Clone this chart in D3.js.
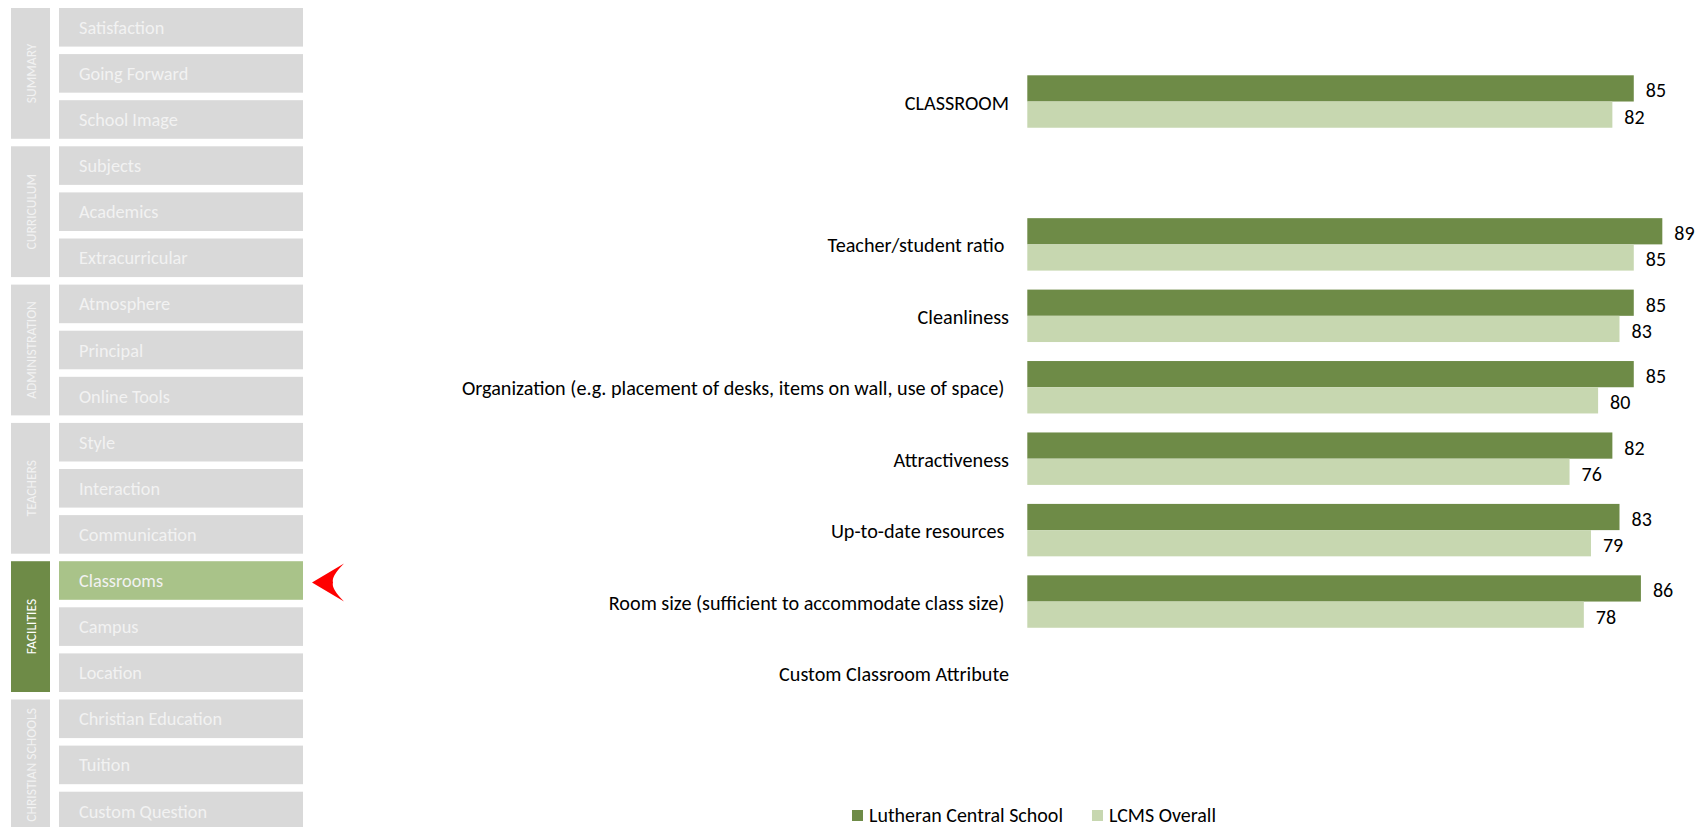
<!DOCTYPE html>
<html>
<head>
<meta charset="utf-8">
<script src="https://cdn.jsdelivr.net/npm/d3@7"></script>
<style>
  body { margin: 0; background: #fff; }
  svg { display: block; }
  text { font-family: Carlito, Calibri, Lato, sans-serif; }
</style>
</head>
<body>
<div id="chart"></div>
<script>
// Chart data
var categories = [
    "CLASSROOM",
    "",
    "Teacher/student ratio ",
    "Cleanliness",
    "Organization (e.g. placement of desks, items on wall, use of space) ",
    "Attractiveness",
    "Up-to-date resources ",
    "Room size (sufficient to accommodate class size) ",
    "Custom Classroom Attribute"
];
var schoolValues = [85, null, 89, 85, 85, 82, 83, 86, null];
var lcmsValues   = [82, null, 85, 83, 80, 76, 79, 78, null];
var seriesNames  = ["Lutheran Central School", "LCMS Overall"];

// Side navigation
var navGroups = ["SUMMARY", "CURRICULUM", "ADMINISTRATION", "TEACHERS", "FACILITIES", "CHRISTIAN SCHOOLS"];
var navItems = [
    ["Satisfaction", "Going Forward", "School Image"],
    ["Subjects", "Academics", "Extracurricular"],
    ["Atmosphere", "Principal", "Online Tools"],
    ["Style", "Interaction", "Communication"],
    ["Classrooms", "Campus", "Location"],
    ["Christian Education", "Tuition", "Custom Question"]
];
var activeGroup = "FACILITIES";
var activeItem = "Classrooms";

var colors = ["#6e8b47", "#c7d7b0"];

var svg = d3.select("#chart")
    .append("svg")
        .attr("width", 1697)
        .attr("height", 827);

// ---- side navigation ----
var navList = [];
navGroups.forEach(function(g, i) {
    navItems[i].forEach(function(it) { navList.push({group: g, item: it}); });
});

var yNav = d3.scaleBand()
    .domain(navList.map(function(d) { return d.item; }))
    .range([8, 830.3])
    .paddingInner(0.163);

var groupData = navGroups.map(function(g, i) {
    var items = navItems[i];
    return {
        name: g,
        y0: yNav(items[0]),
        y1: yNav(items[items.length - 1]) + yNav.bandwidth()
    };
});

var nav = svg.append("g").attr("class", "nav");

nav.selectAll("rect.group")
    .data(groupData)
    .enter().append("rect")
    .attr("class", "group")
    .attr("x", 11)
    .attr("width", 39)
    .attr("y", function(d) { return d.y0; })
    .attr("height", function(d) { return d.y1 - d.y0; })
    .attr("fill", function(d) { return d.name === activeGroup ? "#6e8b47" : "#d9d9d9"; });

nav.selectAll("text.group")
    .data(groupData)
    .enter().append("text")
    .attr("class", "group")
    .attr("transform", function(d) {
        return "translate(31," + ((d.y0 + d.y1) / 2) + ") rotate(-90)";
    })
    .attr("dy", "0.35em")
    .attr("text-anchor", "middle")
    .style("font-size", "13.5px")
    .style("fill", function(d) { return d.name === activeGroup ? "#ffffff" : "#f2f2f2"; })
    .text(function(d) { return d.name; });

nav.selectAll("rect.item")
    .data(navList)
    .enter().append("rect")
    .attr("class", "item")
    .attr("x", 59)
    .attr("width", 244)
    .attr("y", function(d) { return yNav(d.item); })
    .attr("height", yNav.bandwidth())
    .attr("fill", function(d) { return d.item === activeItem ? "#a9c389" : "#d9d9d9"; });

nav.selectAll("text.item")
    .data(navList)
    .enter().append("text")
    .attr("class", "item")
    .attr("x", 79)
    .attr("y", function(d) { return yNav(d.item) + yNav.bandwidth() / 2; })
    .attr("dy", "0.36em")
    .style("font-size", "18.3px")
    .style("fill", "#f2f2f2")
    .text(function(d) { return d.item; });

// red pointer next to the active item
var ay = yNav(activeItem) + yNav.bandwidth() / 2 + 2;
nav.append("path")
    .attr("d", "M312," + ay +
        " L344," + (ay - 19) +
        " Q331," + (ay - 6) + " 333," + ay +
        " Q331," + (ay + 6) + " 344," + (ay + 19) + " Z")
    .attr("fill", "#ff0000");

// ---- bar chart ----
var x = d3.scaleLinear().domain([0, 100]).range([1027.3, 1740.8]);
var y = d3.scaleBand()
    .domain(categories)
    .range([65.8, 708.7])
    .paddingInner(0.266)
    .paddingOuter(0.133);
var ySeries = d3.scaleBand().domain([0, 1]).range([0, y.bandwidth()]);

var rows = categories.map(function(c, i) {
    return {cat: c, values: [schoolValues[i], lcmsValues[i]]};
});

var chart = svg.append("g").attr("class", "chart");

// category labels
chart.selectAll("text.cat")
    .data(rows)
    .enter().append("text")
    .attr("class", "cat")
    .attr("x", 1009)
    .attr("y", function(d) { return y(d.cat) + y.bandwidth() / 2; })
    .attr("dy", "0.4em")
    .attr("text-anchor", "end")
    .style("white-space", "pre")
    .style("font-size", "20.2px")
    .style("fill", "#000")
    .text(function(d) { return d.cat; });

var barData = [];
rows.forEach(function(r) {
    r.values.forEach(function(v, s) {
        if (v !== null) barData.push({cat: r.cat, s: s, v: v});
    });
});

chart.selectAll("rect.bar")
    .data(barData)
    .enter().append("rect")
    .attr("class", "bar")
    .attr("x", x(0))
    .attr("y", function(d) { return y(d.cat) + ySeries(d.s); })
    .attr("width", function(d) { return x(d.v) - x(0); })
    .attr("height", ySeries.bandwidth())
    .attr("fill", function(d) { return colors[d.s]; });

chart.selectAll("text.val")
    .data(barData)
    .enter().append("text")
    .attr("class", "val")
    .attr("x", function(d) { return x(d.v) + 12; })
    .attr("y", function(d) { return y(d.cat) + ySeries(d.s) + ySeries.bandwidth() / 2; })
    .attr("dy", "0.45em")
    .style("font-size", "20px")
    .style("fill", "#000")
    .text(function(d) { return d.v; });

// ---- legend ----
var legend = svg.append("g").attr("class", "legend");
var lx = 852;
seriesNames.forEach(function(name, i) {
    legend.append("rect")
        .attr("x", lx)
        .attr("y", 810)
        .attr("width", 11)
        .attr("height", 11)
        .attr("fill", colors[i]);
    var t = legend.append("text")
        .attr("x", lx + 17)
        .attr("y", 822)
        .style("font-size", "20px")
        .style("fill", "#000")
        .text(name);
    lx += 17 + t.node().getComputedTextLength() + 29;
});
</script>
</body>
</html>
